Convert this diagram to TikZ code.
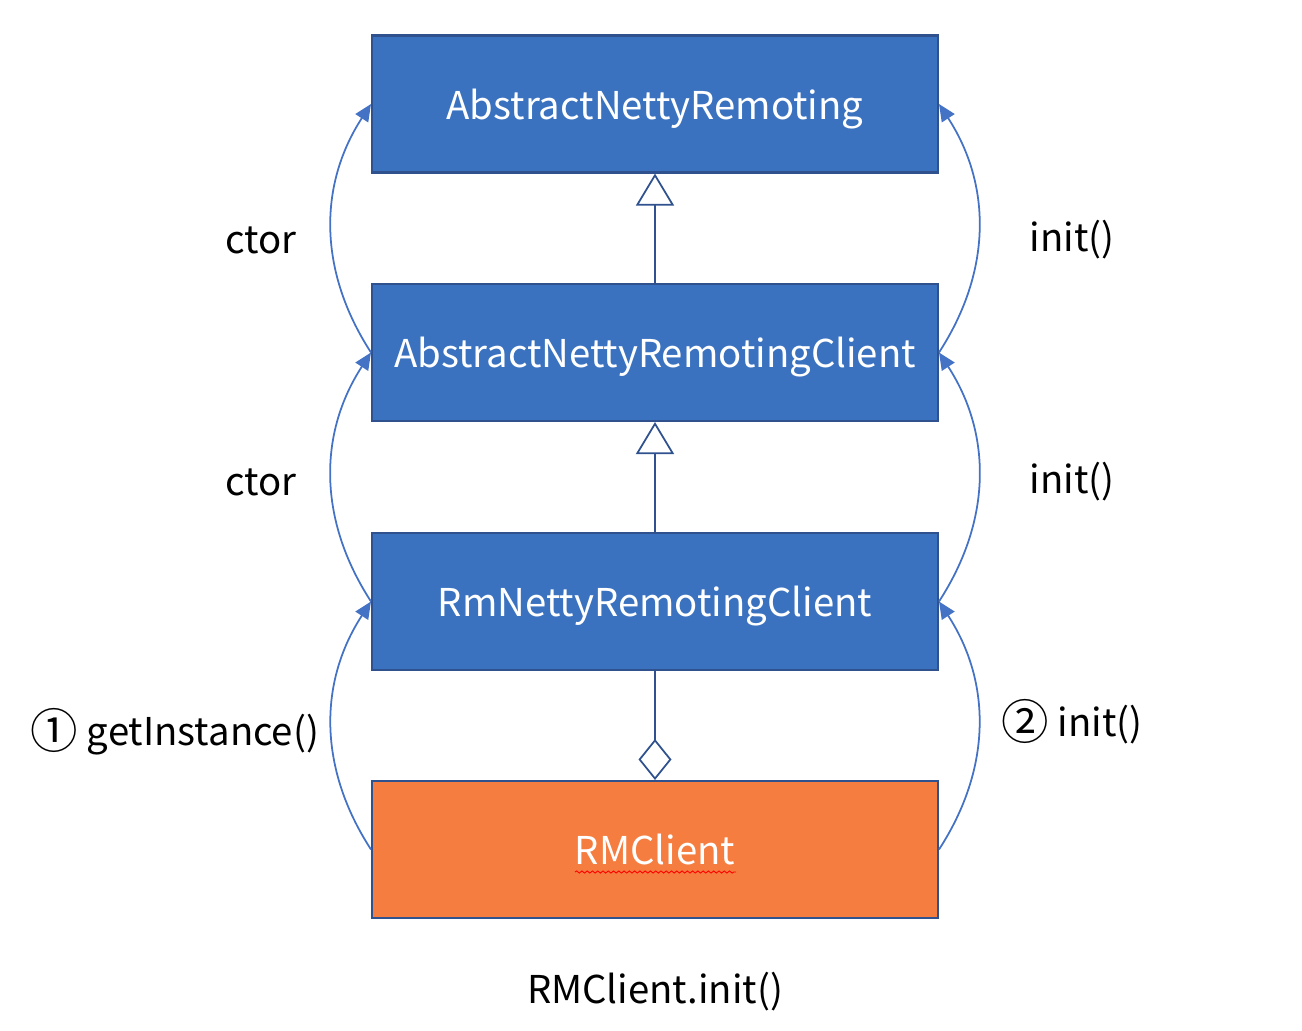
\documentclass[tikz,border=0pt]{standalone}
\usepackage{fontspec}
\setmainfont{Noto Sans CJK SC}
\usetikzlibrary{arrows.meta,decorations.pathmorphing}

\definecolor{boxblue}{RGB}{58,114,192}
\definecolor{boxedge}{RGB}{47,82,143}
\definecolor{boxorange}{RGB}{244,125,63}
\definecolor{linkblue}{RGB}{68,114,196}

\newcommand{\circnum}[1]{{\fontsize{27}{27}\selectfont\raisebox{-0.12ex}{#1}}}

\tikzset{
	classbox/.style={draw=boxedge, line width=1.2pt, fill=boxblue, text=white, text depth=0pt,
		minimum width=11.32cm, minimum height=2.74cm, font=\fontsize{21.8}{26}\selectfont},
	call/.style={draw=linkblue, line width=1pt, -{Triangle[length=0.34cm,width=0.3cm]}},
	calltext/.style={font=\fontsize{21.8}{26}\selectfont}
}

\begin{document}
\begin{tikzpicture}[x=0.02cm, y=-0.02cm]

	\useasboundingbox (0,0) rectangle (1302,1031);

	% classes
	\node [classbox] (remoting) at (655,104) {AbstractNettyRemoting};
	\node [classbox] (client) at (655,352.5) {AbstractNettyRemotingClient};
	\node [classbox] (rmnetty) at (655,601.5) {RmNettyRemotingClient};
	\node [classbox, fill=boxorange] (rm) at (655,849.5) {RMClient};

	% spell-check squiggle
	\draw [red, line width=0.5pt, decorate, decoration={snake, amplitude=0.6pt, segment length=3pt}]
		(575,872) -- (736,872);

	% inheritance and aggregation
	\draw [boxedge, line width=1pt, -{Triangle[open, length=0.64cm, width=0.76cm]}]
		(client.north) -- (remoting.south);
	\draw [boxedge, line width=1pt, -{Triangle[open, length=0.64cm, width=0.76cm]}]
		(rmnetty.north) -- (client.south);
	\draw [boxedge, line width=1pt, -{Diamond[open, length=0.82cm, width=0.66cm]}]
		(rmnetty.south) -- (rm.north);

	% calls, left side
	\draw [call] (client.west) to [out=123, in=237] (remoting.west);
	\draw [call] (rmnetty.west) to [out=123, in=237] (client.west);
	\draw [call] (rm.west) to [out=123, in=237] (rmnetty.west);

	% calls, right side
	\draw [call] (client.east) to [out=57, in=-57] (remoting.east);
	\draw [call] (rmnetty.east) to [out=57, in=-57] (client.east);
	\draw [call] (rm.east) to [out=57, in=-57] (rmnetty.east);

	% labels
	\node [calltext] (ctorup) at (261,240) {ctor};
	\node [calltext] (ctordown) at (261,482) {ctor};
	\node [calltext] (initup) at (1072,240) {init()};
	\node [calltext] (initdown) at (1072,482) {init()};
	\node [calltext] (getinst) at (175,732) {\circnum{①} getInstance()};
	\node [calltext] (initrm) at (1072,722) {\circnum{②} init()};
	\node [calltext] (caption) at (655,992) {RMClient.init()};

\end{tikzpicture}
\end{document}
